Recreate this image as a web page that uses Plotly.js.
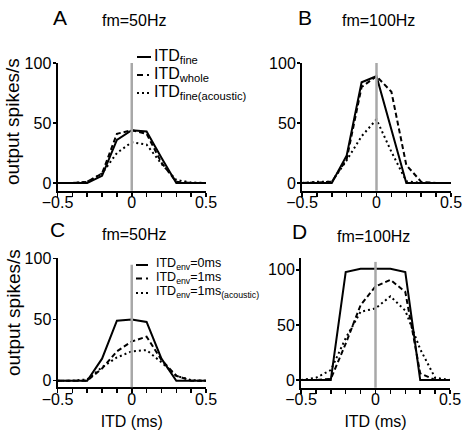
<!DOCTYPE html>
<html>
<head>
<meta charset="utf-8">
<script src="https://cdn.plot.ly/plotly-3.0.1.min.js"></script>
<style>html,body{margin:0;padding:0;background:#fff;}#chart{width:468px;height:430px;}</style>
</head>
<body>
<div id="chart"></div>
<script>
// ITD values (ms)
const itd = [-0.5, -0.4, -0.3, -0.2, -0.1, 0, 0.1, 0.2, 0.3, 0.4, 0.5];

// Panel A (fm=50Hz)
const aFine       = [0, 0, 0, 6, 36, 44, 43, 21, 0, 0, 0];
const aWhole      = [0, 0, 1, 8, 41, 44, 41, 17, 1, 0, 0];
const aFineAcou   = [0, 0, 1, 8, 25, 34, 32, 16, 2.5, 0.5, 0];

// Panel B (fm=100Hz)
const bFine       = [0, 0, 0, 23, 84, 89, 45, 0, 0, 0, 0];
const bWhole      = [0, 0.5, 1, 20, 80, 89, 76, 15, 1, 0, 0];
const bFineAcou   = [0, 1, 1, 19, 39, 53, 26, 1.5, 0, 0, 0];

// Panel C (fm=50Hz)
const cEnv0       = [0, 0, 0, 18, 49, 50, 48, 18, 0, 0, 0];
const cEnv1       = [0, 0, 0, 10, 24, 32, 36, 17, 4, 0, 0];
const cEnv1Acou   = [0, 0, 1, 11, 19, 24, 25, 15, 4, 0.5, 0];

// Panel D (fm=100Hz)
const dEnv0       = [0, 0, 0, 98, 101, 101, 101, 98, 0, 0, 0];
const dEnv1       = [0, 0, 1, 33, 68, 85, 91, 80, 6, 0, 0];
const dEnv1Acou   = [0, 2, 9, 38, 62, 65, 76, 63, 28, 2, 0];

// labels
const panelLetters = ['A', 'B', 'C', 'D'];
const panelTitles = ['fm=50Hz', 'fm=100Hz', 'fm=50Hz', 'fm=100Hz'];
const legendA = ['ITD<sub>fine</sub>', 'ITD<sub>whole</sub>', 'ITD<sub>fine(acoustic)</sub>'];
const legendC = ['ITD<sub>env</sub>=0ms', 'ITD<sub>env</sub>=1ms', 'ITD<sub>env</sub>=1ms<sub>(acoustic)</sub>'];
const yTitle = 'output spikes/s';
const xTitle = 'ITD (ms)';
const yTicks = [0, 50, 100];
const xTicks = [-0.5, 0, 0.5];

const W = 468, H = 430;
const px = v => v / W;
const py = v => 1 - v / H;
const FONT = "'Liberation Sans', Arial, Helvetica, sans-serif";

const styles = [
  {color: '#000', width: 2, dash: 'solid'},
  {color: '#000', width: 2, dash: '5px,3px'},
  {color: '#000', width: 2, dash: '2px,3px'}
];

function tr(y, xa, ya, s) {
  return {x: itd, y: y, xaxis: xa, yaxis: ya, type: 'scatter', mode: 'lines',
          line: Object.assign({}, styles[s]), showlegend: false, hoverinfo: 'skip'};
}

const data = [
  tr(aFine, 'x', 'y', 0), tr(aWhole, 'x', 'y', 1), tr(aFineAcou, 'x', 'y', 2),
  tr(bFine, 'x2', 'y2', 0), tr(bWhole, 'x2', 'y2', 1), tr(bFineAcou, 'x2', 'y2', 2),
  tr(cEnv0, 'x3', 'y3', 0), tr(cEnv1, 'x3', 'y3', 1), tr(cEnv1Acou, 'x3', 'y3', 2),
  tr(dEnv0, 'x4', 'y4', 0), tr(dEnv1, 'x4', 'y4', 1), tr(dEnv1Acou, 'x4', 'y4', 2)
];

function xax(domain, anchor, title) {
  const a = {
    domain: domain, anchor: anchor, range: [-0.5, 0.5], showgrid: false, zeroline: false,
    showline: true, linecolor: '#000', linewidth: 2,
    tickmode: 'array', tickvals: xTicks, ticks: 'outside', ticklen: 4, tickwidth: 1.5, tickcolor: '#000',
    minor: {tickmode: 'linear', tick0: 0, dtick: 0.1, ticks: 'outside', ticklen: 4, tickwidth: 1.5, tickcolor: '#000'},
    tickfont: {family: FONT, size: 16, color: '#000'}, ticklabelstandoff: -8,
    fixedrange: true
  };
  if (title) a.title = {text: xTitle, font: {family: FONT, size: 16, color: '#000'}, standoff: 12};
  return a;
}
function yax(domain, anchor, range) {
  return {
    domain: domain, anchor: anchor, range: range, showgrid: false, zeroline: false,
    showline: true, linecolor: '#000', linewidth: 2,
    tickmode: 'array', tickvals: yTicks, ticks: 'outside', ticklen: 3, tickwidth: 1.5, tickcolor: '#000',
    tickfont: {family: FONT, size: 16, color: '#000'}, ticklabelstandoff: -2,
    fixedrange: true
  };
}

const dA = [px(57.5), px(206)], dB = [px(302), px(451)], dD = [px(301), px(450)];
const yTop = [py(190.7), py(63)], yBot = [py(387.3), py(258.3)], yBotD = [py(387.7), py(258)];

const shapes = [];
const annotations = [];
// zero-ITD reference lines
[['x', 'y', 1], ['x2', 'y2', 1], ['x3', 'y3', 0.95], ['x4', 'y4', 0.97]].forEach(r => {
  shapes.push({type: 'line', xref: r[0], yref: r[1] + ' domain', x0: 0, x1: 0, y0: 0, y1: r[2],
               line: {color: '#a8a8a8', width: 2.5}, layer: 'above'});
});

// custom legends
function legend(rows, labels, x0, x1, tx, size) {
  rows.forEach((ry, i) => {
    shapes.push({type: 'line', xref: 'paper', yref: 'paper', x0: px(x0), x1: px(x1), y0: py(ry + 1), y1: py(ry + 1),
                 line: {color: '#000', width: 2, dash: i === 0 ? 'solid' : (i === 1 ? '6px,4px,2px,4px' : '2px,3px')}});
    annotations.push({xref: 'paper', yref: 'paper', x: px(tx), y: py(ry), xanchor: 'left', yanchor: 'middle',
                      text: labels[i], showarrow: false, font: {family: FONT, size: size, color: '#000'}});
  });
}
legend([56, 74, 92], legendA, 137, 151, 152, 16);
legend([264, 277.5, 292], legendC, 136, 148, 154, 12.5);

// panel letters and titles
const letterPos = [[60, 17], [305, 17], [57, 230], [299, 231]];
const titlePos = [[100, 20.5], [340, 20.5], [100, 234], [335, 236]];
for (let i = 0; i < 4; i++) {
  annotations.push({xref: 'paper', yref: 'paper', x: px(letterPos[i][0]), y: py(letterPos[i][1]),
                    xanchor: 'center', yanchor: 'middle', text: panelLetters[i], showarrow: false,
                    font: {family: FONT, size: 21, color: '#000'}});
  annotations.push({xref: 'paper', yref: 'paper', x: px(titlePos[i][0]), y: py(titlePos[i][1]),
                    xanchor: 'left', yanchor: 'middle', text: panelTitles[i], showarrow: false,
                    font: {family: FONT, size: 16, color: '#000'}});
}
// y titles
[[13, 122], [13, 313]].forEach(p => {
  annotations.push({xref: 'paper', yref: 'paper', x: px(p[0]), y: py(p[1]), xanchor: 'center', yanchor: 'middle',
                    text: yTitle, textangle: -90, showarrow: false, font: {family: FONT, size: 19, color: '#000'}});
});

const layout = {
  width: W, height: H, margin: {l: 0, r: 0, t: 0, b: 0},
  paper_bgcolor: '#fff', plot_bgcolor: 'rgba(0,0,0,0)', showlegend: false,
  font: {family: FONT, color: '#000'},
  xaxis: xax(dA, 'y', false), yaxis: yax(yTop, 'x', [-6.4, 100]),
  xaxis2: xax(dB, 'y2', false), yaxis2: yax(yTop, 'x2', [-6.4, 100]),
  xaxis3: xax(dA, 'y3', true), yaxis3: yax(yBot, 'x3', [-5.4, 100]),
  xaxis4: xax(dD, 'y4', true), yaxis4: yax(yBotD, 'x4', [-7, 110.8]),
  shapes: shapes, annotations: annotations
};

Plotly.newPlot('chart', data, layout, {staticPlot: true, displayModeBar: false});
</script>
</body>
</html>
